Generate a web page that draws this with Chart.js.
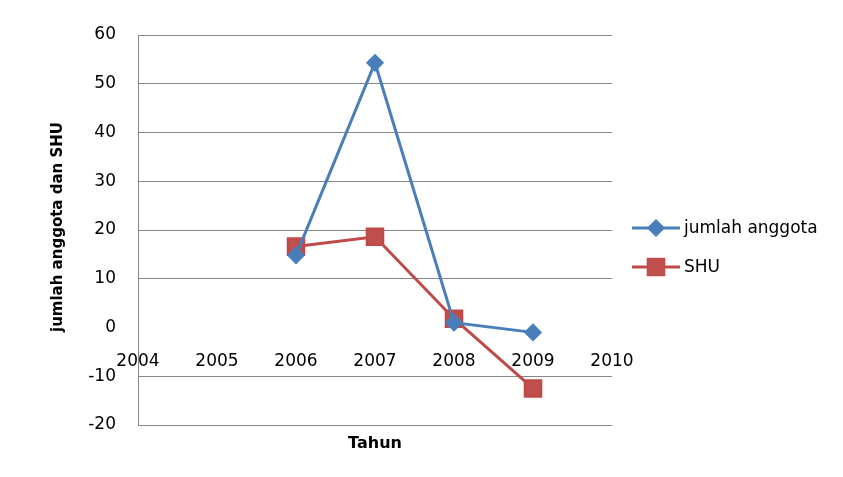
<!DOCTYPE html>
<html>
<head>
<meta charset="utf-8">
<script src="https://cdn.jsdelivr.net/npm/chart.js@4"></script>
<style>
  html, body { margin: 0; padding: 0; background: #fff; }
  #wrap { width: 843px; height: 477px; }
</style>
</head>
<body>
<div id="wrap"><canvas id="chart1"></canvas></div>
<script>
const years = [2006, 2007, 2008, 2009];
const jumlahAnggota = [14.8, 54.3, 1.0, -1.0];
const shu = [16.6, 18.6, 1.8, -12.5];
const xTicks = [2004, 2005, 2006, 2007, 2008, 2009, 2010];
const yTicks = [-20, -10, 0, 10, 20, 30, 40, 50, 60];

const FONT = 'DejaVu Sans';

// titles + legend drawn by hand to sit where the original has them
const extras = {
    id: 'extras',
    afterDraw(chart) {
        const c = chart.ctx;
        const area = chart.chartArea;
        c.save();
        c.fillStyle = '#000';
        c.font = 'bold 16px ' + FONT;
        c.textAlign = 'center';
        c.textBaseline = 'middle';
        c.fillText('Tahun', (area.left + area.right) / 2, 444);

        c.translate(58, 227);
        c.rotate(-Math.PI / 2);
        c.font = 'bold 15px ' + FONT;
        c.fillText('jumlah anggota dan SHU', 0, 0);
        c.restore();

        const rows = [228, 267];
        chart.data.datasets.forEach((ds, i) => {
            const y = rows[i];
            c.save();
            c.strokeStyle = ds.borderColor;
            c.lineWidth = 3;
            c.beginPath();
            c.moveTo(632, y);
            c.lineTo(680, y);
            c.stroke();
            Chart.helpers.drawPoint(c, {
                pointStyle: ds.pointStyle,
                radius: ds.pointRadius,
                borderWidth: 1
            }, 656, y);
            c.fillStyle = ds.pointBackgroundColor;
            c.strokeStyle = ds.pointBorderColor;
            c.fill();
            c.fillStyle = '#000';
            c.font = '17px ' + FONT;
            c.textAlign = 'left';
            c.textBaseline = 'middle';
            c.fillText(ds.label, 684, y + 1);
            c.restore();
        });
    }
};

const ctx = document.getElementById('chart1').getContext('2d');
const chart1 = new Chart(ctx, {
    type: 'scatter',
    data: {
        datasets: [
            {
                label: 'jumlah anggota',
                data: years.map((x, i) => ({ x: x, y: jumlahAnggota[i] })),
                showLine: true,
                borderColor: '#4A7EBB',
                borderWidth: 3,
                pointStyle: 'rectRot',
                pointRadius: 7,
                pointBackgroundColor: '#4A7EBB',
                pointBorderColor: '#4A7EBB',
            },
            {
                label: 'SHU',
                data: years.map((x, i) => ({ x: x, y: shu[i] })),
                showLine: true,
                borderColor: '#BE4B48',
                borderWidth: 3,
                pointStyle: 'rect',
                pointRadius: 11,
                pointBackgroundColor: '#C0504D',
                pointBorderColor: '#BE4B48',
            }
        ]
    },
    plugins: [extras],
    options: {
        responsive: true,
        maintainAspectRatio: false,
        animation: false,
        layout: {
            padding: { left: 0, top: 35, right: 231, bottom: 52 }
        },
        scales: {
            x: {
                type: 'linear',
                position: { y: 0 },
                min: 2004,
                max: 2010,
                afterBuildTicks: s => { s.ticks = xTicks.map(v => ({ value: v })); },
                ticks: {
                    color: '#000',
                    font: { family: FONT, size: 17 },
                    padding: 24,
                    maxRotation: 0,
                    callback: v => String(v)
                },
                grid: { display: false, drawTicks: false },
                border: { display: false }
            },
            y: {
                min: -20,
                max: 60,
                afterFit: s => { s.width = 138; },
                afterBuildTicks: s => { s.ticks = yTicks.map(v => ({ value: v })); },
                ticks: {
                    color: '#000',
                    font: { family: FONT, size: 17 },
                    padding: 22
                },
                grid: {
                    drawTicks: false,
                    color: c => (c.tick && c.tick.value === 0) ? 'rgba(0,0,0,0)' : '#868686'
                },
                border: { display: true, color: '#868686' }
            }
        },
        plugins: {
            legend: { display: false },
            tooltip: { enabled: false }
        }
    }
});
</script>
</body>
</html>
